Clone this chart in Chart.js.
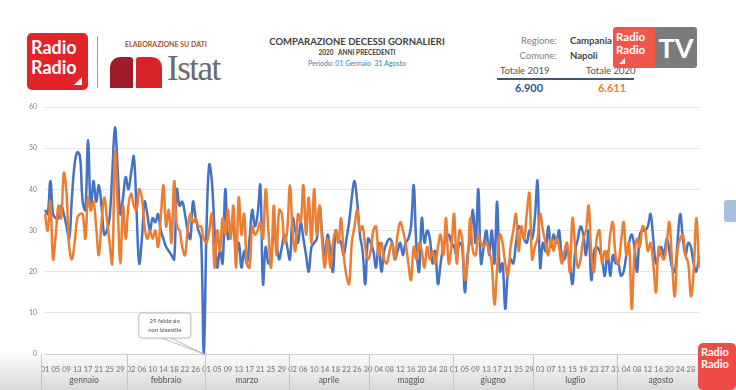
<!DOCTYPE html>
<html>
<head>
<meta charset="utf-8">
<title>Comparazione decessi giornalieri - Napoli</title>
<script src="https://cdn.jsdelivr.net/npm/chart.js@4.4.1/dist/chart.umd.min.js"></script>
<style>
  body {
    margin: 0; width: 736px; height: 390px; overflow: hidden; position: relative;
    font-family: Lato, "Open Sans", sans-serif;
    background: linear-gradient(to bottom, #fff 0px, #fff 350px, #efefef 368px, #d9d9d9 390px);
  }
  canvas { position: absolute; left: 0; top: 0; }
  .abs { position: absolute; white-space: nowrap; }
  .rr { background: #e2232a; border-radius: 5px; color: #fff; font-weight: bold; }
  .tri { position: absolute; width: 0; height: 0; border-left: 8px solid transparent; border-bottom: 8px solid #fff; }
</style>
</head>
<body>

<!-- logo Radio Radio -->
<div class="abs rr" style="left:27px;top:33px;width:61px;height:57px;font-size:18px;line-height:20px;padding:4px 0 0 4px;box-sizing:border-box;">Radio<br>Radio
  <div class="tri" style="right:6px;bottom:5px;"></div>
</div>
<div class="abs" style="left:97px;top:36px;width:1px;height:52px;background:#9a9a9a;"></div>
<div class="abs" style="left:125px;top:40px;font-size:7px;font-weight:bold;color:#a0522d;">ELABORAZIONE SU DATI</div>
<!-- logo Istat -->
<div class="abs" style="left:110px;top:57px;width:23px;height:31px;background:#9e1b2b;border-radius:10px 3px 0 0;"></div>
<div class="abs" style="left:136px;top:57px;width:26px;height:31px;background:#d8232a;border-radius:3px 10px 0 0;"></div>
<div class="abs" style="left:167px;top:49px;font-size:35px;font-family:'Liberation Serif',serif;color:#6b6b6b;letter-spacing:-1.5px;">Istat</div>

<!-- titolo -->
<div class="abs" style="left:257px;top:36px;width:200px;text-align:center;font-size:9.5px;font-weight:bold;color:#404040;">COMPARAZIONE DECESSI GORNALIERI</div>
<div class="abs" style="left:257px;top:49px;width:200px;text-align:center;font-size:6.5px;font-weight:bold;color:#404040;">2020&nbsp;&nbsp;&nbsp;ANNI PRECEDENTI</div>
<div class="abs" style="left:257px;top:59px;width:200px;text-align:center;font-size:7px;color:#3a78c2;">Periodo: 01 Gennaio&nbsp;&nbsp;31 Agosto</div>

<!-- regione / totali -->
<div class="abs" style="left:497px;top:35px;width:60px;text-align:right;font-size:9.5px;color:#808080;">Regione:</div>
<div class="abs" style="left:570px;top:35px;font-size:9.5px;font-weight:bold;color:#444;">Campania</div>
<div class="abs" style="left:497px;top:50px;width:60px;text-align:right;font-size:9.5px;color:#808080;">Comune:</div>
<div class="abs" style="left:570px;top:50px;font-size:9.5px;font-weight:bold;color:#444;">Napoli</div>
<div class="abs" style="left:500px;top:65px;font-size:9.5px;color:#555;">Totale 2019</div>
<div class="abs" style="left:586px;top:65px;font-size:9.5px;color:#555;">Totale 2020</div>
<div class="abs" style="left:497px;top:78px;width:137px;height:2px;background:#44546a;"></div>
<div class="abs" style="left:515px;top:81px;font-size:11px;font-weight:bold;color:#2f5597;">6.900</div>
<div class="abs" style="left:598px;top:81px;font-size:11px;font-weight:bold;color:#ed7d31;">6.611</div>

<!-- logo TV -->
<div class="abs" style="left:613px;top:27px;width:42px;height:41px;background:#f0574b;border-radius:3px 0 0 3px;color:#fff;font-weight:bold;font-size:11.5px;line-height:13px;padding:3px 0 0 3px;box-sizing:border-box;">Radio<br>Radio
  <div class="tri" style="left:6px;bottom:4px;border-left-width:6px;border-bottom-width:6px;"></div>
</div>
<div class="abs" style="left:655px;top:27px;width:42px;height:41px;background:#7b7b7b;border-radius:0 3px 3px 0;color:#fff;font-weight:bold;font-size:27px;line-height:41px;text-align:center;">TV</div>

<div class="abs" style="left:724px;top:200px;width:12px;height:22px;background:#a9c0dc;border-radius:3px 0 0 3px;"></div>
<div class="abs rr" style="left:698px;top:343px;width:38px;height:47px;background:#ef4a45;font-size:11px;line-height:12px;padding:3px 0 0 3px;box-sizing:border-box;z-index:2;">Radio<br>Radio</div>

<canvas id="chart" width="736" height="390"></canvas>

<script>
// mesi e giorni (2020 bisestile: il 29 febbraio c'e)
const monthNames = ['gennaio', 'febbraio', 'marzo', 'aprile', 'maggio', 'giugno', 'luglio', 'agosto'];
const monthDays = [31, 29, 31, 30, 31, 30, 31, 31];

// decessi giornalieri 2019 (il 29/02 non esiste -> 0)
const deaths2019 = [
  35,34,42,34,33,33,36,34,31,28,38,46,49,48,37,35,52,35,42,37,41,36,29,30,33,44,55,45,34,38,43,
  40,44,48,35,22,28,37,34,30,33,32,34,30,28,26,25,24,23,40,36,37,34,30,28,37,33,30,28,0,
  30,46,42,30,21,25,22,40,28,30,31,24,27,21,25,22,28,35,31,34,41,17,26,22,24,29,27,23,26,29,26,
  23,33,30,27,32,28,24,20,26,27,28,36,29,24,29,25,20,30,28,27,24,28,32,38,42,37,29,25,17,28,
  27,25,21,27,20,25,27,28,27,23,25,27,24,27,28,31,41,26,20,33,27,30,28,22,25,17,22,26,28,29,27,
  26,24,27,26,15,24,28,35,27,40,22,26,30,24,30,22,37,20,22,11,20,23,22,27,31,30,28,27,30,28,
  33,42,21,27,25,31,26,29,27,30,24,23,26,22,17,25,28,31,29,24,30,18,25,26,25,23,19,25,19,24,22,
  22,19,20,24,27,29,26,20,29,30,30,31,34,28,22,24,26,24,28,25,21,20,27,34,28,24,27,26,22,20,24
];

// decessi giornalieri 2020
const deaths2020 = [
  34,30,37,23,29,36,33,44,39,26,23,27,33,34,34,28,38,35,37,31,24,32,38,33,27,22,49,36,22,36,28,
  36,39,36,35,40,38,31,28,30,28,30,26,33,41,31,35,27,42,31,30,26,24,30,34,32,33,31,31,28,
  27,30,34,21,30,25,33,29,35,28,36,21,38,29,34,22,21,31,29,30,32,28,40,30,21,36,24,35,34,27,30,
  41,30,25,34,32,41,29,38,27,40,29,36,27,21,28,21,27,30,27,33,24,19,17,27,31,35,30,31,26,23,
  25,30,31,24,27,23,22,25,27,23,29,32,30,27,22,18,26,23,27,25,21,26,23,25,22,26,29,24,33,22,26,
  34,22,30,28,18,22,33,25,24,29,27,26,27,25,22,12,21,29,27,22,19,26,30,34,25,31,28,34,39,23,
  26,28,34,30,27,24,28,25,28,26,22,25,27,20,33,26,21,23,28,30,36,24,20,28,30,22,25,23,29,32,24,
  22,27,32,24,27,11,24,28,26,31,30,25,27,22,15,26,24,23,27,32,22,14,25,28,29,24,22,14,20,33,21
];

const yTicks = [0, 10, 20, 30, 40, 50, 60];
const calloutText = ['29 febbraio', 'non bisestile'];
const calloutIndex = 59; // 29 febbraio

// etichette giorno "01", "02"...
const labels = [];
monthDays.forEach(n => {
  for (let d = 1; d <= n; d++) labels.push(d < 10 ? '0' + d : '' + d);
});

// nomi dei mesi sotto l'asse con separatori
const monthLabels = {
  id: 'monthLabels',
  afterDraw(chart) {
    const ctx = chart.ctx;
    const x = chart.scales.x;
    const top = chart.chartArea.bottom;
    let start = 0;
    ctx.save();
    ctx.strokeStyle = '#c6c6c6';
    ctx.lineWidth = 1;
    ctx.fillStyle = '#555';
    ctx.font = '8.5px Lato';
    ctx.textAlign = 'center';
    ctx.textBaseline = 'middle';
    monthDays.forEach((n, m) => {
      const end = start + n - 1;
      const a = start === 0 ? x.getPixelForValue(0) - 4 : (x.getPixelForValue(start - 1) + x.getPixelForValue(start)) / 2;
      const b = end === labels.length - 1 ? x.getPixelForValue(end) + 6 : (x.getPixelForValue(end) + x.getPixelForValue(end + 1)) / 2;
      ctx.beginPath();
      ctx.moveTo(Math.round(a) + 0.5, top);
      ctx.lineTo(Math.round(a) + 0.5, top + 36);
      ctx.stroke();
      ctx.fillText(monthNames[m], (a + b) / 2, top + 26);
      start = end + 1;
    });
    ctx.restore();
  }
};

// nota "29 febbraio non bisestile"
const callout = {
  id: 'callout',
  afterDatasetsDraw(chart) {
    const ctx = chart.ctx;
    const px = chart.scales.x.getPixelForValue(calloutIndex);
    const py = chart.scales.y.getPixelForValue(deaths2019[calloutIndex]);
    const l = px - 65, t = py - 41, w = 52, h = 25;
    ctx.save();
    ctx.strokeStyle = '#bdbdbd';
    ctx.lineWidth = 1;
    ctx.beginPath();
    ctx.moveTo(px - 42, t + h);
    ctx.lineTo(px, py);
    ctx.lineTo(px - 33, t + h);
    ctx.stroke();
    ctx.shadowColor = 'rgba(0,0,0,0.15)';
    ctx.shadowBlur = 3;
    ctx.fillStyle = '#fff';
    ctx.beginPath();
    ctx.roundRect(l, t, w, h, 3);
    ctx.fill();
    ctx.shadowColor = 'transparent';
    ctx.stroke();
    ctx.fillStyle = '#555';
    ctx.font = '6px Lato';
    ctx.textAlign = 'center';
    ctx.textBaseline = 'middle';
    ctx.fillText(calloutText[0], l + w / 2, t + 8);
    ctx.fillText(calloutText[1], l + w / 2, t + 17);
    ctx.restore();
  }
};

let canvas = document.querySelector('#chart');
let context = canvas.getContext('2d');

let chart = new Chart(context, {
  type: 'line',
  data: {
    labels: labels,
    datasets: [{
      label: '2019',
      data: deaths2019,
      borderColor: '#4472c4',
      order: 1
    }, {
      label: '2020',
      data: deaths2020,
      borderColor: '#ed7d31',
      order: 0
    }]
  },
  plugins: [monthLabels, callout],
  options: {
    responsive: false,
    animation: false,
    layout: { padding: { top: 107, right: 37, left: 0, bottom: 0 } },
    elements: {
      line: { tension: 0.4, borderWidth: 2.5, fill: false },
      point: { radius: 0 }
    },
    plugins: {
      legend: { display: false },
      tooltip: { enabled: false }
    },
    scales: {
      x: {
        offset: false,
        grid: { display: false },
        border: { color: '#cfcfcf' },
        ticks: {
          autoSkip: false,
          maxRotation: 0,
          minRotation: 0,
          padding: 3,
          color: '#707070',
          font: { size: 7.5, family: 'Lato' },
          callback: function (value, index) {
            return index % 4 === 0 ? labels[index] : '';
          }
        },
        afterFit: function (scale) { scale.height = 36; }
      },
      y: {
        min: yTicks[0],
        max: yTicks[yTicks.length - 1],
        afterBuildTicks: function (scale) { scale.ticks = yTicks.map(v => ({ value: v })); },
        grid: { color: '#e4e4e4', drawTicks: false },
        border: { display: false },
        ticks: { padding: 8, color: '#808080', font: { size: 7, family: 'Lato' } },
        afterFit: function (scale) { scale.width = 45; }
      }
    }
  }
});
</script>
</body>
</html>
